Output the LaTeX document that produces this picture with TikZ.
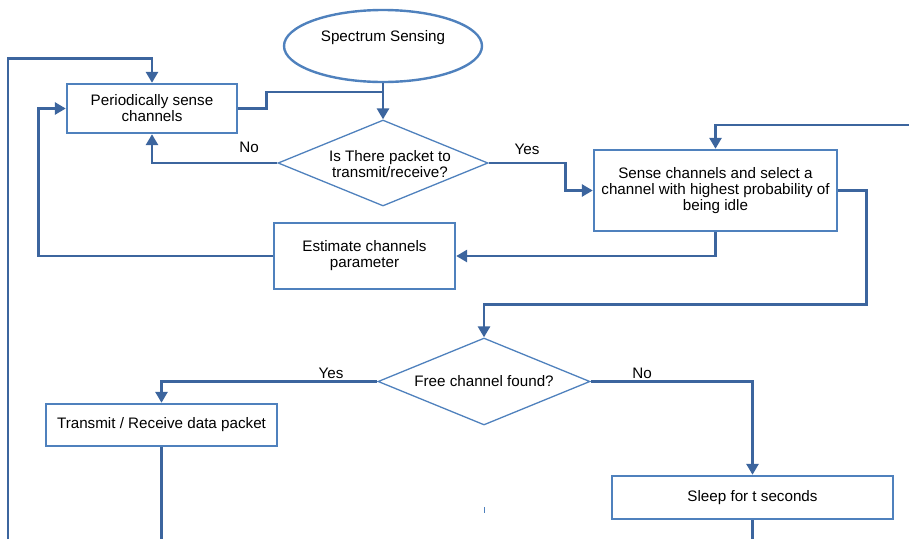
\documentclass[tikz,border=0pt]{standalone}
\usepackage{fontspec}
\setmainfont{Liberation Sans}
\usepackage{tikz}
\usetikzlibrary{shapes.geometric,arrows.meta}
\definecolor{linkblue}{HTML}{3C659E}
\definecolor{boxblue}{HTML}{4F81BD}

\begin{document}
\begin{tikzpicture}[x=1pt,y=-1pt,
    font=\fontsize{15.2}{16}\selectfont,
    >={Triangle[length=11pt,width=12pt]},
    link/.style={draw=linkblue, line width=2.8pt, line join=miter},
    procbox/.style={draw=boxblue, line width=2.4pt, rectangle, inner sep=0pt, align=center, fill=white},
    decision/.style={draw=boxblue, line width=1.3pt, diamond, aspect=2.4, inner sep=0pt, align=center, fill=white},
    terminal/.style={draw=boxblue, line width=2.4pt, ellipse, inner sep=0pt, fill=white}]
            \useasboundingbox (0,0) rectangle (909,539);
            \node[terminal, minimum width=198pt, minimum height=72pt] (start) at (383, 46) {};
            \node (startlbl) at (383, 38) {Spectrum Sensing};
            \node[procbox, minimum width=170pt, minimum height=49pt] (sensep) at (152, 108.5) {Periodically sense\\channels};
            \node[decision, minimum width=210pt, minimum height=86pt] (q1) at (383, 163) {};
            \node[align=center] (q1lbl) at (390, 164) {Is There packet to\\transmit/receive?};
            \node[procbox, minimum width=243pt, minimum height=81pt] (sense) at (715.5, 190.5) {Sense channels and select a\\channel with highest probability of\\being idle};
            \node[procbox, minimum width=181pt, minimum height=66pt] (estim) at (364.5, 256) {Estimate channels\\parameter};
            \node[decision, minimum width=212pt, minimum height=87pt] (q2) at (484, 381.5) {Free channel found?};
            \node[procbox, minimum width=231pt, minimum height=42pt] (tx) at (161.5, 425) {Transmit / Receive data packet};
            \node[procbox, minimum width=281pt, minimum height=43pt] (sleep) at (752.5, 497.5) {Sleep for t seconds};
            \node (no1) at (249, 147) {No};
            \node (yes1) at (527, 149) {Yes};
            \node (yes2) at (331, 373) {Yes};
            \node (no2) at (642, 373) {No};
            \coordinate (join) at (383, 92);
            \coordinate (rin) at (909, 125);
            \coordinate (lout) at (8, 539);
            \coordinate (txend) at (161.5, 539);
            \coordinate (sleepend) at (752.5, 539);
            \draw[link, ->] (start) -- (q1);
            \draw[link] (sensep.east) -- ++(28, 0) |- (join);
            \draw[link, ->] (q1.west) -| (sensep.south);
            \draw[link, ->] (q1.east) -- ++(77, 0) |- (sense.west);
            \draw[link, ->] (rin) -| (sense.north);
            \draw[link, ->] (sense.south) |- (estim.east);
            \draw[link, ->] (estim.west) -| ([xshift=-27pt]sensep.west) -- (sensep.west);
            \draw[link, ->] (lout) |- ([yshift=24pt]sensep.north) -- (sensep.north);
            \draw[link, ->] (sense.east) -- ++(28, 0) |- ([yshift=33pt]q2.north) -- (q2.north);
            \draw[link, ->] (q2.west) -| (tx.north);
            \draw[link, ->] (q2.east) -| (sleep.north);
            \draw[link] (tx.south) -- (txend);
            \draw[link] (sleep.south) -- (sleepend);
            \draw[boxblue, line width=1pt] (484, 507) -- (484, 513);
        \end{tikzpicture}
\end{document}
